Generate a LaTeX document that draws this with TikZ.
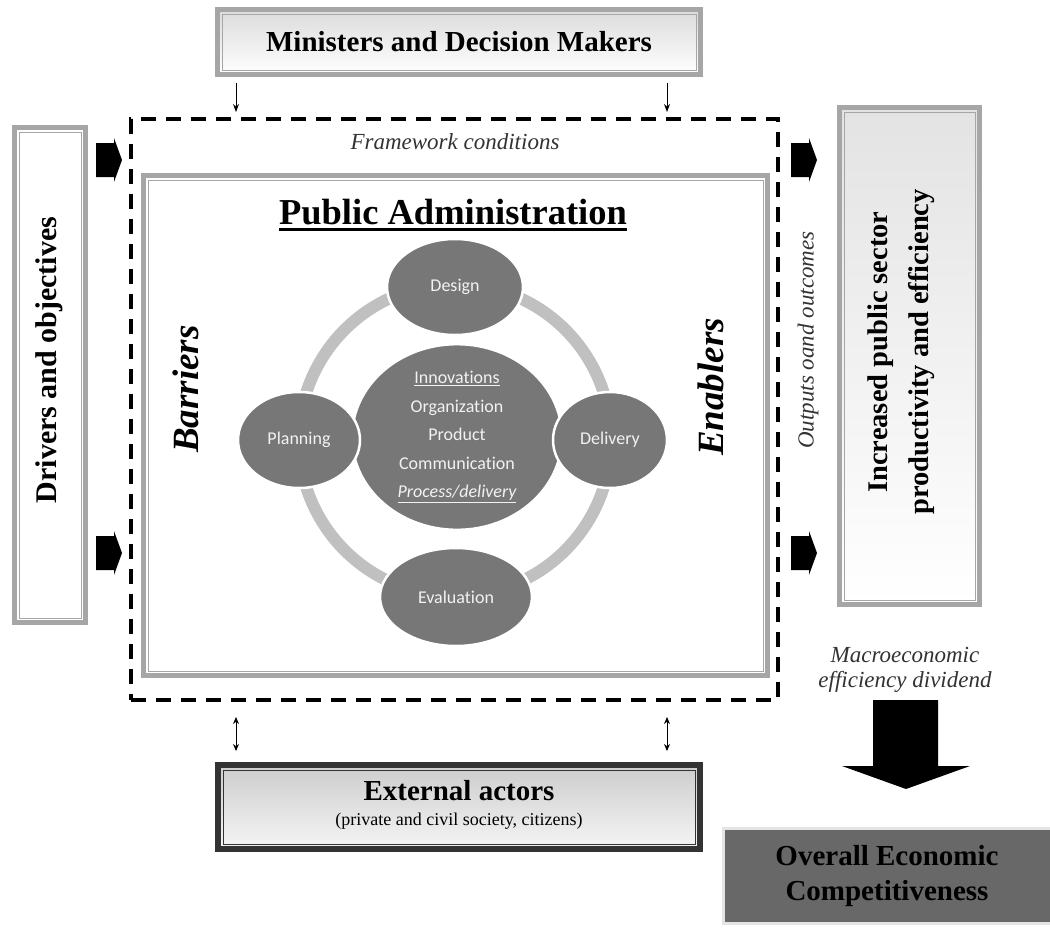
\documentclass[tikz,border=0pt]{standalone}
\usepackage{fontspec}
\setmainfont{Liberation Serif}
\newfontfamily\calibri[Ligatures=NoCommon]{Carlito}
\usetikzlibrary{shapes.geometric,arrows.meta,calc}
\definecolor{framegray}{HTML}{A6A6A6}
\definecolor{ringgray}{HTML}{C0C0C0}
\definecolor{bubble}{HTML}{777777}
\definecolor{bubbletext}{HTML}{F2F2F2}
\definecolor{darkframe}{HTML}{333333}
\definecolor{notegray}{HTML}{333333}
\definecolor{oecfill}{HTML}{686868}
\definecolor{oecedge}{HTML}{E4E4E4}
\newcommand\fs[2][]{\fontsize{#2}{#2}\selectfont}
% thin inner rule of a double-bordered box
\newcommand\innerrule[3]{\draw[#2, line width=0.9pt] ([shift={(#3,-#3)}]#1.north west) rectangle ([shift={(-#3,#3)}]#1.south east);}
% black block arrow: tip x, centre y
\newcommand\blockarrow[2]{\fill (#1-26,#2-17) -- (#1-8,#2-17) -- (#1-8,#2-22) -- (#1,#2) -- (#1-8,#2+22) -- (#1-8,#2+17) -- (#1-26,#2+17) -- cycle;}
\begin{document}
\begin{tikzpicture}[x=1pt,y=-1pt,
  box/.style={draw=#1, line width=5pt, inner sep=0pt, outer sep=0pt},
  bubblenode/.style={ellipse, fill=bubble, draw=white, line width=2.5pt, text=bubbletext, font=\calibri\fs{18}, inner sep=0pt},
  lbl/.style={inner sep=0pt, outer sep=0pt},
  thinarrow/.style={line width=0.9pt, -{Stealth[length=8pt,width=6pt]}},
  twoway/.style={line width=0.9pt, {Stealth[length=7pt,width=6pt]}-{Stealth[length=7pt,width=6pt]}},
]
\fill[white] (0,0) rectangle (1050,930);
\useasboundingbox (0,0) rectangle (1050,930);

% ministers
\node[box=framegray, top color=black!14, bottom color=white, minimum width=483pt, minimum height=65pt, font=\bfseries\fs{29}] (mdm) at (459,42) {Ministers and Decision Makers};
\innerrule{mdm}{framegray}{4.5pt}

% framework conditions (dashed)
\node[draw, line width=3.5pt, dash pattern=on 15pt off 10pt, minimum width=647pt, minimum height=581pt, inner sep=0pt, outer sep=0pt] (frame) at (454.5,409.5) {};
\node[lbl, font=\itshape\fs{23}, text=notegray] (fwc) at (455,142) {Framework conditions};

\coordinate (colL) at (236,0);
\coordinate (colR) at (667,0);
\draw[thinarrow, shorten <=8pt, shorten >=7pt] (colL |- mdm.south) -- (colL |- frame.north);
\draw[thinarrow, shorten <=8pt, shorten >=7pt] (colR |- mdm.south) -- (colR |- frame.north);

% public administration
\node[box=framegray, fill=white, minimum width=624pt, minimum height=500pt] (pa) at (455.5,425.5) {};
\innerrule{pa}{framegray}{4.5pt}
\node[lbl, font=\bfseries\fs{36.5}] (patitle) at (453,212) {Public Administration};
\draw[line width=2.4pt] ([yshift=-5pt]patitle.base west) -- ([yshift=-5pt]patitle.base east);

\node[lbl, rotate=90, font=\bfseries\itshape\fs{37}] (barriers) at (186,389) {Barriers};
\node[lbl, rotate=90, font=\bfseries\itshape\fs{37}] (enablers) at (711,387) {Enablers};

% innovation cycle
\draw[ringgray, line width=12pt] (455,440) circle[radius=156pt];
\node[bubblenode, minimum width=210pt, minimum height=176pt, align=center, font=\calibri\fontsize{18}{28.5}\selectfont] (core) at (457,437)
  {\underline{Innovations}\\Organization\\Product\\Communication\\\textit{\underline{Process/delivery}}};
\node[bubblenode, minimum width=136pt, minimum height=96pt] (design) at (455,287) {Design};
\node[bubblenode, minimum width=122pt, minimum height=96pt] (planning) at (299,440) {Planning};
\node[bubblenode, minimum width=114pt, minimum height=96pt] (delivery) at (610,440) {Delivery};
\node[bubblenode, minimum width=152pt, minimum height=98pt] (evaluation) at (456,597) {Evaluation};

\node[lbl, rotate=90, font=\itshape\fs{23}, text=notegray] (outputs) at (808,340) {Outputs oand outcomes};

% drivers
\node[box=framegray, fill=white, minimum width=71pt, minimum height=495pt] (drivers) at (50,375) {};
\innerrule{drivers}{framegray}{4.5pt}
\node[lbl, rotate=90, font=\bfseries\fs{30}] (driverst) at (49,360) {Drivers and objectives};

% result
\node[box=framegray, top color=black!11, bottom color=white, minimum width=140pt, minimum height=497pt] (result) at (909.5,356) {};
\innerrule{result}{framegray}{4.5pt}
\node[lbl, rotate=90, align=center, font=\bfseries\fontsize{28.5}{41}\selectfont] (resultt) at (901,352) {Increased public sector\\productivity and efficiency};

% block arrows
\blockarrow{122}{160}
\blockarrow{122}{553}
\blockarrow{817}{160}
\blockarrow{817}{553}

% external actors
\node[box=darkframe, line width=6pt, top color=black!20, bottom color=black!4, minimum width=482pt, minimum height=84pt] (ext) at (459,807) {};
\innerrule{ext}{darkframe}{5pt}
\node[lbl, font=\bfseries\fs{29}] (extt) at (459,791) {External actors};
\node[lbl, font=\fs{18}] (exts) at (459,821) {(private and civil society, citizens)};
\draw[twoway, shorten <=17pt, shorten >=14pt] (colL |- frame.south) -- (colL |- ext.north);
\draw[twoway, shorten <=17pt, shorten >=14pt] (colR |- frame.south) -- (colR |- ext.north);

% macroeconomic dividend
\node[lbl, align=center, font=\itshape\fontsize{23}{25}\selectfont, text=notegray] (macro) at (905,670) {Macroeconomic\\efficiency dividend};
\fill (873,700) -- (938,700) -- (938,766) -- (970,766) -- (906,789) -- (842,766) -- (873,766) -- cycle;
\node[draw=oecedge, line width=3pt, fill=oecfill, minimum width=328pt, minimum height=95pt, inner sep=0pt, align=center, font=\bfseries\fontsize{29}{35}\selectfont] (oec) at (887,876) {Overall Economic\\Competitiveness};
\end{tikzpicture}
\end{document}
